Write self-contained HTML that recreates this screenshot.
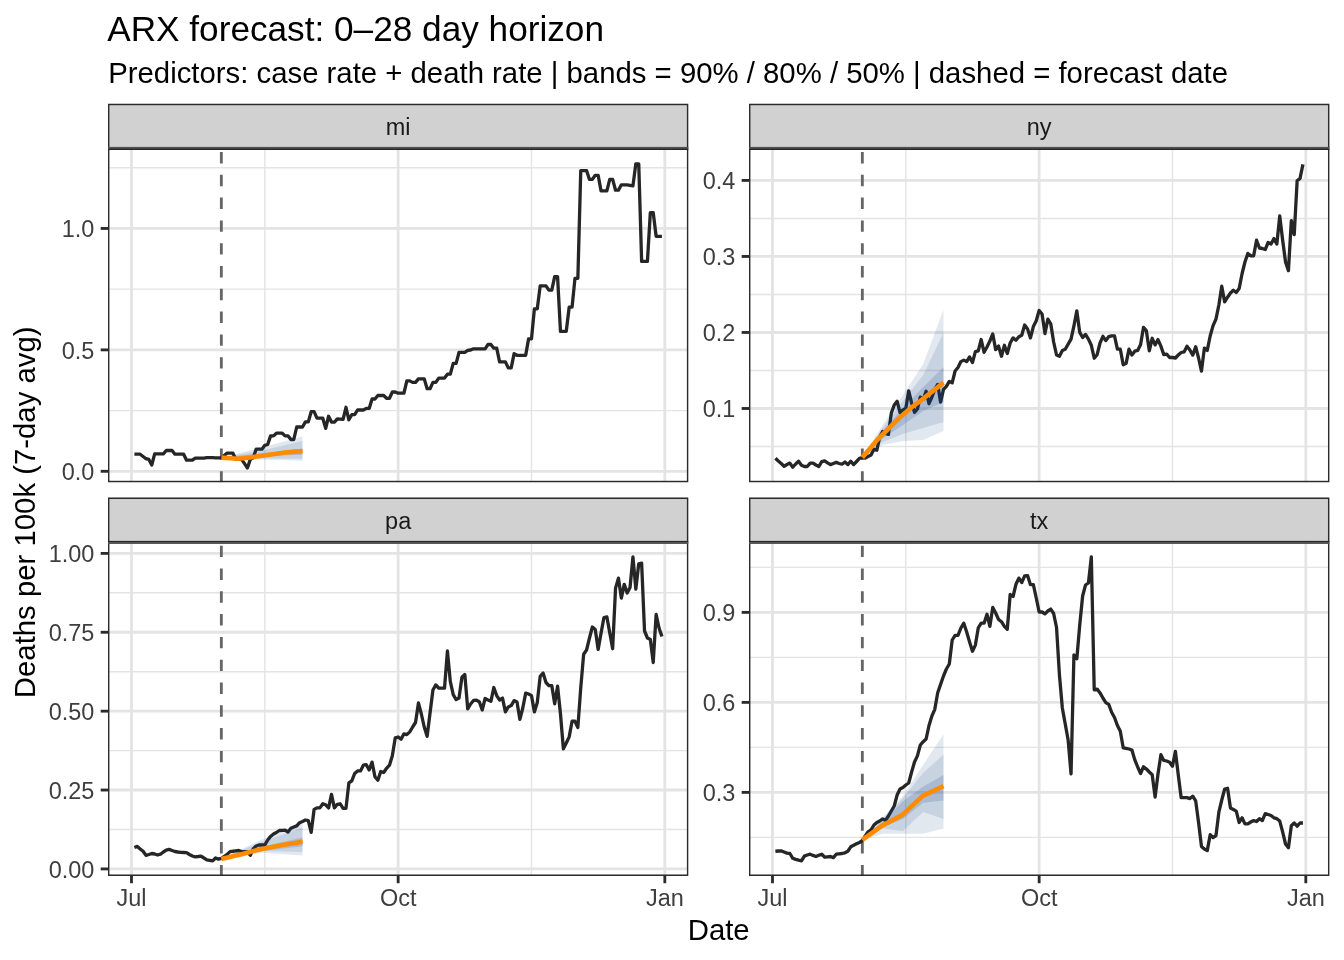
<!DOCTYPE html><html><head><meta charset="utf-8"><style>html,body{margin:0;padding:0;background:#fff;}svg{display:block;will-change:transform;}</style></head><body>
<svg width="1344" height="960" viewBox="0 0 1344 960" font-family='"Liberation Sans", sans-serif'>
<rect x="0" y="0" width="1344" height="960" fill="#ffffff"/>
<text x="107.2" y="40.7" font-size="35.2" fill="#000">ARX forecast: 0–28 day horizon</text>
<text x="108.2" y="82.5" font-size="29.33" fill="#000">Predictors: case rate + death rate | bands = 90% / 80% / 50% | dashed = forecast date</text>
<text x="718.7" y="939.6" font-size="29.33" fill="#000" text-anchor="middle">Date</text>
<text transform="translate(35.4,512.3) rotate(-90)" font-size="29.33" fill="#000" text-anchor="middle">Deaths per 100k (7-day avg)</text>
<clipPath id="clip_mi"><rect x="108.0" y="148.5" width="580.30" height="333.70"/></clipPath>
<g clip-path="url(#clip_mi)">
<rect x="108.0" y="148.5" width="580.30" height="333.70" fill="#fff"/>
<line x1="108.0" x2="688.3" y1="410.59" y2="410.59" stroke="#E4E4E4" stroke-width="1.42"/>
<line x1="108.0" x2="688.3" y1="289.16" y2="289.16" stroke="#E4E4E4" stroke-width="1.42"/>
<line x1="108.0" x2="688.3" y1="167.74" y2="167.74" stroke="#E4E4E4" stroke-width="1.42"/>
<line x1="264.81" x2="264.81" y1="148.5" y2="482.2" stroke="#E4E4E4" stroke-width="1.42"/>
<line x1="531.49" x2="531.49" y1="148.5" y2="482.2" stroke="#E4E4E4" stroke-width="1.42"/>
<line x1="108.0" x2="688.3" y1="471.30" y2="471.30" stroke="#E4E4E4" stroke-width="2.84"/>
<line x1="108.0" x2="688.3" y1="349.88" y2="349.88" stroke="#E4E4E4" stroke-width="2.84"/>
<line x1="108.0" x2="688.3" y1="228.45" y2="228.45" stroke="#E4E4E4" stroke-width="2.84"/>
<line x1="131.48" x2="131.48" y1="148.5" y2="482.2" stroke="#E4E4E4" stroke-width="2.84"/>
<line x1="398.15" x2="398.15" y1="148.5" y2="482.2" stroke="#E4E4E4" stroke-width="2.84"/>
<line x1="664.82" x2="664.82" y1="148.5" y2="482.2" stroke="#E4E4E4" stroke-width="2.84"/>
<line x1="221.34" x2="221.34" y1="482.60" y2="148.5" stroke="#666666" stroke-width="2.84" stroke-dasharray="11.4 11.4"/>
<polyline points="134.38,454.20 137.28,454.20 140.18,454.20 143.07,456.45 145.97,458.70 148.87,459.40 151.77,465.00 154.67,453.90 157.57,453.90 160.47,453.90 163.36,453.90 166.26,450.50 169.16,450.50 172.06,450.50 174.96,454.20 177.86,454.20 180.76,454.20 183.65,454.20 186.55,460.20 189.45,460.20 192.35,460.20 195.25,458.10 198.15,458.10 201.05,458.10 203.94,458.10 206.84,457.60 209.74,457.66 212.64,457.72 215.54,457.78 218.44,457.84 221.34,457.90 224.24,455.50 227.13,453.10 230.03,453.10 232.93,453.10 235.83,459.40 238.73,459.40 241.63,459.40 244.53,463.70 247.42,468.00 250.32,459.40 253.22,457.80 256.12,449.20 259.02,449.20 261.92,449.20 264.82,445.30 267.71,444.50 270.61,435.90 273.51,435.90 276.41,433.20 279.31,433.20 282.21,433.20 285.11,435.90 288.00,435.90 290.90,439.50 293.80,439.50 296.70,427.00 299.60,427.00 302.50,427.00 305.40,421.90 308.29,421.90 311.19,411.70 314.09,411.70 316.99,418.20 319.89,418.20 322.79,418.20 325.69,428.40 328.58,416.25 331.48,422.10 334.38,422.10 337.28,419.00 340.18,419.20 343.08,419.40 345.98,407.30 348.88,419.80 351.77,414.70 354.67,414.70 357.57,410.00 360.47,410.00 363.37,410.00 366.27,408.40 369.17,408.40 372.06,399.00 374.96,399.00 377.86,395.50 380.76,395.50 383.66,395.50 386.56,398.30 389.46,398.30 392.35,392.00 395.25,392.00 398.15,393.20 401.05,393.20 403.95,393.00 406.85,380.90 409.75,380.90 412.64,382.40 415.54,382.40 418.44,378.90 421.34,378.90 424.24,378.90 427.14,388.70 430.04,388.70 432.93,382.40 435.83,382.40 438.73,378.10 441.63,378.10 444.53,378.10 447.43,374.20 450.33,374.20 453.22,363.30 456.12,363.30 459.02,352.30 461.92,352.30 464.82,352.30 467.72,350.40 470.62,350.00 473.51,348.80 476.41,348.80 479.31,348.80 482.21,348.80 485.11,348.80 488.01,344.50 490.91,344.50 493.80,348.20 496.70,348.20 499.60,361.90 502.50,361.90 505.40,361.90 508.30,367.90 511.20,367.90 514.10,353.70 516.99,355.30 519.89,355.30 522.79,355.30 525.69,355.30 528.59,338.90 531.49,338.90 534.39,308.80 537.28,308.80 540.18,285.90 543.08,285.90 545.98,285.90 548.88,290.20 551.78,290.20 554.68,276.60 557.57,276.60 560.47,331.30 563.37,331.30 566.27,331.30 569.17,307.20 572.07,307.20 574.97,278.30 577.86,278.30 580.76,170.60 583.66,170.60 586.56,170.60 589.46,179.40 592.36,179.40 595.26,175.30 598.15,175.30 601.05,190.90 603.95,190.90 606.85,190.90 609.75,179.40 612.65,179.40 615.55,190.20 618.44,190.20 621.34,184.80 624.24,184.80 627.14,184.80 630.04,185.35 632.94,185.90 635.84,163.80 638.74,163.80 641.63,261.40 644.53,261.40 647.43,261.40 650.33,212.60 653.23,212.60 656.13,236.30 659.03,236.30 661.92,236.30" fill="none" stroke="#262626" stroke-width="3.3" stroke-linejoin="round" stroke-linecap="butt"/>
<polygon points="221.34,457.60 261.92,447.50 302.50,436.40 302.50,460.80 261.92,459.50 221.34,457.60" fill="#123F80" fill-opacity="0.12"/>
<polygon points="221.34,457.60 261.92,450.50 302.50,441.00 302.50,458.80 261.92,458.50 221.34,457.60" fill="#123F80" fill-opacity="0.12"/>
<polygon points="221.34,457.60 261.92,453.50 302.50,448.40 302.50,454.80 261.92,456.00 221.34,457.60" fill="#123F80" fill-opacity="0.17"/>
<polyline points="221.40,457.60 230.00,458.30 238.00,458.80 250.00,457.50 260.00,456.00 275.00,454.00 285.00,452.50 295.00,451.60 302.60,451.30" fill="none" stroke="#FF8C00" stroke-width="4.6" stroke-linejoin="round" stroke-linecap="butt"/>
<rect x="108.0" y="148.5" width="580.30" height="333.70" fill="none" stroke="#2B2B2B" stroke-width="2.84"/>
</g>
<clipPath id="sclip_mi"><rect x="108.0" y="103.8" width="580.30" height="44.70"/></clipPath>
<g clip-path="url(#sclip_mi)"><rect x="108.0" y="103.8" width="580.30" height="44.70" fill="#D1D1D1" stroke="#2B2B2B" stroke-width="2.84"/></g>
<rect x="108.0" y="146.9" width="580.30" height="1.7" fill="#505050"/>
<rect x="108.0" y="148.6" width="580.30" height="1.4" fill="#262626"/>
<text x="398.15" y="134.70" font-size="23.47" fill="#1A1A1A" text-anchor="middle">mi</text>
<line x1="100.67" x2="108.0" y1="471.30" y2="471.30" stroke="#2B2B2B" stroke-width="2.84"/>
<text x="94.40" y="480.20" font-size="23.47" fill="#3E3E3E" text-anchor="end">0.0</text>
<line x1="100.67" x2="108.0" y1="349.88" y2="349.88" stroke="#2B2B2B" stroke-width="2.84"/>
<text x="94.40" y="358.77" font-size="23.47" fill="#3E3E3E" text-anchor="end">0.5</text>
<line x1="100.67" x2="108.0" y1="228.45" y2="228.45" stroke="#2B2B2B" stroke-width="2.84"/>
<text x="94.40" y="237.35" font-size="23.47" fill="#3E3E3E" text-anchor="end">1.0</text>
<clipPath id="clip_ny"><rect x="749.0" y="148.5" width="580.40" height="333.70"/></clipPath>
<g clip-path="url(#clip_ny)">
<rect x="749.0" y="148.5" width="580.40" height="333.70" fill="#fff"/>
<line x1="749.0" x2="1329.4" y1="446.50" y2="446.50" stroke="#E4E4E4" stroke-width="1.42"/>
<line x1="749.0" x2="1329.4" y1="370.48" y2="370.48" stroke="#E4E4E4" stroke-width="1.42"/>
<line x1="749.0" x2="1329.4" y1="294.46" y2="294.46" stroke="#E4E4E4" stroke-width="1.42"/>
<line x1="749.0" x2="1329.4" y1="218.44" y2="218.44" stroke="#E4E4E4" stroke-width="1.42"/>
<line x1="905.81" x2="905.81" y1="148.5" y2="482.2" stroke="#E4E4E4" stroke-width="1.42"/>
<line x1="1172.49" x2="1172.49" y1="148.5" y2="482.2" stroke="#E4E4E4" stroke-width="1.42"/>
<line x1="749.0" x2="1329.4" y1="408.49" y2="408.49" stroke="#E4E4E4" stroke-width="2.84"/>
<line x1="749.0" x2="1329.4" y1="332.47" y2="332.47" stroke="#E4E4E4" stroke-width="2.84"/>
<line x1="749.0" x2="1329.4" y1="256.45" y2="256.45" stroke="#E4E4E4" stroke-width="2.84"/>
<line x1="749.0" x2="1329.4" y1="180.43" y2="180.43" stroke="#E4E4E4" stroke-width="2.84"/>
<line x1="772.48" x2="772.48" y1="148.5" y2="482.2" stroke="#E4E4E4" stroke-width="2.84"/>
<line x1="1039.15" x2="1039.15" y1="148.5" y2="482.2" stroke="#E4E4E4" stroke-width="2.84"/>
<line x1="1305.82" x2="1305.82" y1="148.5" y2="482.2" stroke="#E4E4E4" stroke-width="2.84"/>
<line x1="862.34" x2="862.34" y1="482.60" y2="148.5" stroke="#666666" stroke-width="2.84" stroke-dasharray="11.4 11.4"/>
<polyline points="775.38,458.30 778.28,461.00 781.18,463.50 784.07,466.30 786.97,464.50 789.87,463.10 792.77,467.20 795.67,464.00 798.57,461.25 801.47,465.30 804.36,466.50 807.26,466.50 810.16,463.10 813.06,463.10 815.96,465.00 818.86,466.50 821.76,461.60 824.65,460.90 827.55,462.80 830.45,464.60 833.35,463.50 836.25,462.40 839.15,463.50 842.05,464.20 844.95,462.00 847.84,464.60 850.74,461.25 853.64,464.60 856.54,461.50 859.44,458.30 862.34,457.60 865.24,458.10 868.13,456.50 871.03,455.10 873.93,449.20 876.83,450.20 879.73,437.00 882.63,431.40 885.53,433.50 888.42,434.40 891.32,413.00 894.22,405.00 897.12,401.20 900.02,412.60 902.92,410.00 905.82,408.60 908.71,390.80 911.61,403.00 914.51,412.30 917.41,409.00 920.31,397.20 923.21,399.20 926.11,391.30 929.00,403.70 931.90,397.20 934.80,389.30 937.70,384.40 940.60,402.20 943.50,389.30 946.40,386.30 949.29,381.40 952.19,382.90 955.09,371.00 957.99,367.50 960.89,361.60 963.79,360.10 966.69,361.60 969.58,357.00 972.48,362.50 975.38,351.60 978.28,350.80 981.18,339.50 984.08,352.30 986.98,347.00 989.88,341.00 992.77,334.00 995.67,349.60 998.57,346.10 1001.47,356.25 1004.37,345.30 1007.27,353.50 1010.17,343.00 1013.06,337.90 1015.96,340.20 1018.86,336.70 1021.76,335.20 1024.66,325.00 1027.56,328.90 1030.46,337.90 1033.35,326.60 1036.25,320.70 1039.15,310.50 1042.05,314.00 1044.95,333.60 1047.85,319.10 1050.75,323.80 1053.64,342.00 1056.54,355.00 1059.44,356.25 1062.34,350.40 1065.24,349.20 1068.14,344.10 1071.04,339.10 1073.93,325.80 1076.83,310.90 1079.73,332.40 1082.63,337.50 1085.53,334.40 1088.43,339.10 1091.33,345.30 1094.22,358.20 1097.12,354.70 1100.02,343.00 1102.92,336.30 1105.82,340.60 1108.72,336.70 1111.62,335.90 1114.51,335.90 1117.41,349.20 1120.31,349.20 1123.21,364.80 1126.11,363.30 1129.01,349.20 1131.91,355.10 1134.81,351.20 1137.70,350.40 1140.60,344.50 1143.50,327.30 1146.40,330.90 1149.30,350.80 1152.20,338.30 1155.10,344.90 1157.99,339.60 1160.89,346.10 1163.79,354.70 1166.69,354.20 1169.59,357.50 1172.49,357.50 1175.39,358.00 1178.28,355.00 1181.18,352.50 1184.08,351.90 1186.98,346.20 1189.88,350.00 1192.78,355.10 1195.68,346.70 1198.57,358.00 1201.47,371.10 1204.37,348.10 1207.27,350.40 1210.17,336.00 1213.07,325.60 1215.97,319.10 1218.86,305.00 1221.76,286.25 1224.66,301.90 1227.56,297.20 1230.46,293.00 1233.36,290.20 1236.26,292.50 1239.15,288.60 1242.05,273.75 1244.95,262.00 1247.85,253.40 1250.75,255.80 1253.65,255.80 1256.55,240.20 1259.44,248.00 1262.34,248.50 1265.24,249.50 1268.14,242.50 1271.04,244.00 1273.94,238.60 1276.84,244.00 1279.74,215.90 1282.63,240.00 1285.53,262.00 1288.43,270.60 1291.33,220.60 1294.23,234.70 1297.13,180.80 1300.03,178.40 1302.92,164.40" fill="none" stroke="#262626" stroke-width="3.3" stroke-linejoin="round" stroke-linecap="butt"/>
<polygon points="862.34,457.60 882.63,425.00 902.92,395.00 923.21,364.00 943.50,309.70 943.50,431.00 923.21,440.00 902.92,441.00 882.63,445.00 862.34,457.60" fill="#123F80" fill-opacity="0.12"/>
<polygon points="862.34,457.60 882.63,428.00 902.92,401.00 923.21,375.00 943.50,332.70 943.50,422.00 923.21,428.00 902.92,434.00 882.63,442.00 862.34,457.60" fill="#123F80" fill-opacity="0.12"/>
<polygon points="862.34,457.60 882.63,431.00 902.92,408.00 923.21,387.00 943.50,367.30 943.50,402.00 923.21,411.00 902.92,425.00 882.63,438.50 862.34,457.60" fill="#123F80" fill-opacity="0.17"/>
<polyline points="862.30,457.40 877.80,439.30 897.60,419.50 912.00,407.00 918.00,402.70 943.50,382.60" fill="none" stroke="#FF8C00" stroke-width="4.6" stroke-linejoin="round" stroke-linecap="butt"/>
<rect x="749.0" y="148.5" width="580.40" height="333.70" fill="none" stroke="#2B2B2B" stroke-width="2.84"/>
</g>
<clipPath id="sclip_ny"><rect x="749.0" y="103.8" width="580.40" height="44.70"/></clipPath>
<g clip-path="url(#sclip_ny)"><rect x="749.0" y="103.8" width="580.40" height="44.70" fill="#D1D1D1" stroke="#2B2B2B" stroke-width="2.84"/></g>
<rect x="749.0" y="146.9" width="580.40" height="1.7" fill="#505050"/>
<rect x="749.0" y="148.6" width="580.40" height="1.4" fill="#262626"/>
<text x="1039.20" y="134.70" font-size="23.47" fill="#1A1A1A" text-anchor="middle">ny</text>
<line x1="741.67" x2="749.0" y1="408.49" y2="408.49" stroke="#2B2B2B" stroke-width="2.84"/>
<text x="735.40" y="417.39" font-size="23.47" fill="#3E3E3E" text-anchor="end">0.1</text>
<line x1="741.67" x2="749.0" y1="332.47" y2="332.47" stroke="#2B2B2B" stroke-width="2.84"/>
<text x="735.40" y="341.37" font-size="23.47" fill="#3E3E3E" text-anchor="end">0.2</text>
<line x1="741.67" x2="749.0" y1="256.45" y2="256.45" stroke="#2B2B2B" stroke-width="2.84"/>
<text x="735.40" y="265.35" font-size="23.47" fill="#3E3E3E" text-anchor="end">0.3</text>
<line x1="741.67" x2="749.0" y1="180.43" y2="180.43" stroke="#2B2B2B" stroke-width="2.84"/>
<text x="735.40" y="189.33" font-size="23.47" fill="#3E3E3E" text-anchor="end">0.4</text>
<clipPath id="clip_pa"><rect x="108.0" y="542.3" width="580.30" height="333.60"/></clipPath>
<g clip-path="url(#clip_pa)">
<rect x="108.0" y="542.3" width="580.30" height="333.60" fill="#fff"/>
<line x1="108.0" x2="688.3" y1="829.49" y2="829.49" stroke="#E4E4E4" stroke-width="1.42"/>
<line x1="108.0" x2="688.3" y1="750.60" y2="750.60" stroke="#E4E4E4" stroke-width="1.42"/>
<line x1="108.0" x2="688.3" y1="671.72" y2="671.72" stroke="#E4E4E4" stroke-width="1.42"/>
<line x1="108.0" x2="688.3" y1="592.83" y2="592.83" stroke="#E4E4E4" stroke-width="1.42"/>
<line x1="264.81" x2="264.81" y1="542.3" y2="875.9" stroke="#E4E4E4" stroke-width="1.42"/>
<line x1="531.49" x2="531.49" y1="542.3" y2="875.9" stroke="#E4E4E4" stroke-width="1.42"/>
<line x1="108.0" x2="688.3" y1="868.93" y2="868.93" stroke="#E4E4E4" stroke-width="2.84"/>
<line x1="108.0" x2="688.3" y1="790.04" y2="790.04" stroke="#E4E4E4" stroke-width="2.84"/>
<line x1="108.0" x2="688.3" y1="711.16" y2="711.16" stroke="#E4E4E4" stroke-width="2.84"/>
<line x1="108.0" x2="688.3" y1="632.27" y2="632.27" stroke="#E4E4E4" stroke-width="2.84"/>
<line x1="108.0" x2="688.3" y1="553.39" y2="553.39" stroke="#E4E4E4" stroke-width="2.84"/>
<line x1="131.48" x2="131.48" y1="542.3" y2="875.9" stroke="#E4E4E4" stroke-width="2.84"/>
<line x1="398.15" x2="398.15" y1="542.3" y2="875.9" stroke="#E4E4E4" stroke-width="2.84"/>
<line x1="664.82" x2="664.82" y1="542.3" y2="875.9" stroke="#E4E4E4" stroke-width="2.84"/>
<line x1="221.34" x2="221.34" y1="876.30" y2="542.3" stroke="#666666" stroke-width="2.84" stroke-dasharray="11.4 11.4"/>
<polyline points="134.38,847.50 137.28,846.40 140.18,849.00 143.07,851.25 145.97,855.30 148.87,854.50 151.77,853.50 154.67,854.00 157.57,855.00 160.47,854.20 163.36,852.00 166.26,850.10 169.16,849.40 172.06,850.50 174.96,851.50 177.86,852.00 180.76,852.30 183.65,852.50 186.55,852.70 189.45,854.50 192.35,856.00 195.25,856.80 198.15,856.50 201.05,856.10 203.94,858.00 206.84,859.80 209.74,860.30 212.64,860.90 215.54,858.00 218.44,859.10 221.34,858.30 224.24,856.50 227.13,854.40 230.03,851.60 232.93,851.25 235.83,850.80 238.73,850.50 241.63,851.60 244.53,851.60 247.42,852.00 250.32,855.20 253.22,848.90 256.12,846.00 259.02,845.00 261.92,845.00 264.82,845.00 267.71,840.00 270.61,836.40 273.51,834.00 276.41,832.50 279.31,830.50 282.21,830.30 285.11,830.20 288.00,832.10 290.90,828.20 293.80,827.00 296.70,825.90 299.60,822.70 302.50,821.50 305.40,820.00 308.29,820.60 311.19,832.40 314.09,809.50 316.99,807.90 319.89,807.90 322.79,803.75 325.69,804.80 328.58,807.90 331.48,794.40 334.38,807.90 337.28,804.30 340.18,803.75 343.08,808.40 345.98,808.40 348.88,782.90 351.77,780.80 354.67,773.50 357.57,770.90 360.47,770.90 363.37,765.20 366.27,764.70 369.17,769.90 372.06,762.10 374.96,776.70 377.86,780.30 380.76,771.50 383.66,772.50 386.56,768.30 389.46,765.20 392.35,755.80 395.25,737.80 398.15,737.00 401.05,739.30 403.95,733.80 406.85,734.60 409.75,731.90 412.64,727.00 415.54,722.50 418.44,702.90 421.34,714.00 424.24,727.00 427.14,736.30 430.04,713.00 432.93,690.00 435.83,684.90 438.73,688.10 441.63,688.10 444.53,688.10 447.43,650.90 450.33,681.60 453.22,694.70 456.12,699.60 459.02,698.00 461.92,677.20 464.82,674.50 467.72,708.90 470.62,704.00 473.51,700.50 476.41,700.20 479.31,701.80 482.21,710.00 485.11,698.50 488.01,700.00 490.91,701.30 493.80,687.50 496.70,695.60 499.60,700.00 502.50,698.10 505.40,711.90 508.30,706.90 511.20,705.60 514.10,700.60 516.99,701.90 519.89,719.40 522.79,708.00 525.69,693.10 528.59,694.00 531.49,695.60 534.39,711.90 537.28,702.50 540.18,676.25 543.08,673.10 545.98,682.50 548.88,685.60 551.78,685.60 554.68,703.75 557.57,686.25 560.47,713.75 563.37,748.75 566.27,743.00 569.17,736.90 572.07,721.25 574.97,721.25 577.86,727.50 580.76,687.60 583.66,654.20 586.56,650.00 589.46,638.00 592.36,627.00 595.26,629.50 598.15,649.40 601.05,633.10 603.95,617.50 606.85,616.90 609.75,632.80 612.65,648.75 615.55,588.10 618.44,578.10 621.34,598.10 624.24,584.40 627.14,593.00 630.04,587.50 632.94,556.90 635.84,589.00 638.74,563.75 641.63,563.10 644.53,631.00 647.43,638.00 650.33,639.40 653.23,662.50 656.13,614.40 659.03,628.00 661.92,636.50" fill="none" stroke="#262626" stroke-width="3.3" stroke-linejoin="round" stroke-linecap="butt"/>
<polygon points="221.34,858.80 261.92,839.50 302.50,823.00 302.50,855.50 261.92,852.70 221.34,858.80" fill="#123F80" fill-opacity="0.12"/>
<polygon points="221.34,858.80 261.92,841.80 302.50,827.50 302.50,852.00 261.92,851.00 221.34,858.80" fill="#123F80" fill-opacity="0.12"/>
<polygon points="221.34,858.80 261.92,846.70 302.50,837.40 302.50,846.30 261.92,851.10 221.34,858.80" fill="#123F80" fill-opacity="0.17"/>
<polyline points="221.30,859.10 241.60,854.20 261.90,848.90 282.20,845.00 302.60,841.80" fill="none" stroke="#FF8C00" stroke-width="4.6" stroke-linejoin="round" stroke-linecap="butt"/>
<rect x="108.0" y="542.3" width="580.30" height="333.60" fill="none" stroke="#2B2B2B" stroke-width="2.84"/>
</g>
<clipPath id="sclip_pa"><rect x="108.0" y="497.6" width="580.30" height="44.70"/></clipPath>
<g clip-path="url(#sclip_pa)"><rect x="108.0" y="497.6" width="580.30" height="44.70" fill="#D1D1D1" stroke="#2B2B2B" stroke-width="2.84"/></g>
<rect x="108.0" y="541.0" width="580.30" height="1.0" fill="#262626"/>
<rect x="108.0" y="542.0" width="580.30" height="1.8" fill="#555555"/>
<text x="398.15" y="528.50" font-size="23.47" fill="#1A1A1A" text-anchor="middle">pa</text>
<line x1="100.67" x2="108.0" y1="868.93" y2="868.93" stroke="#2B2B2B" stroke-width="2.84"/>
<text x="94.40" y="877.83" font-size="23.47" fill="#3E3E3E" text-anchor="end">0.00</text>
<line x1="100.67" x2="108.0" y1="790.04" y2="790.04" stroke="#2B2B2B" stroke-width="2.84"/>
<text x="94.40" y="798.94" font-size="23.47" fill="#3E3E3E" text-anchor="end">0.25</text>
<line x1="100.67" x2="108.0" y1="711.16" y2="711.16" stroke="#2B2B2B" stroke-width="2.84"/>
<text x="94.40" y="720.06" font-size="23.47" fill="#3E3E3E" text-anchor="end">0.50</text>
<line x1="100.67" x2="108.0" y1="632.27" y2="632.27" stroke="#2B2B2B" stroke-width="2.84"/>
<text x="94.40" y="641.17" font-size="23.47" fill="#3E3E3E" text-anchor="end">0.75</text>
<line x1="100.67" x2="108.0" y1="553.39" y2="553.39" stroke="#2B2B2B" stroke-width="2.84"/>
<text x="94.40" y="562.29" font-size="23.47" fill="#3E3E3E" text-anchor="end">1.00</text>
<line x1="131.48" x2="131.48" y1="875.9" y2="883.23" stroke="#2B2B2B" stroke-width="2.84"/>
<text x="131.48" y="906" font-size="23.47" fill="#3E3E3E" text-anchor="middle">Jul</text>
<line x1="398.15" x2="398.15" y1="875.9" y2="883.23" stroke="#2B2B2B" stroke-width="2.84"/>
<text x="398.15" y="906" font-size="23.47" fill="#3E3E3E" text-anchor="middle">Oct</text>
<line x1="664.82" x2="664.82" y1="875.9" y2="883.23" stroke="#2B2B2B" stroke-width="2.84"/>
<text x="664.82" y="906" font-size="23.47" fill="#3E3E3E" text-anchor="middle">Jan</text>
<clipPath id="clip_tx"><rect x="749.0" y="542.3" width="580.40" height="333.60"/></clipPath>
<g clip-path="url(#clip_tx)">
<rect x="749.0" y="542.3" width="580.40" height="333.60" fill="#fff"/>
<line x1="749.0" x2="1329.4" y1="837.38" y2="837.38" stroke="#E4E4E4" stroke-width="1.42"/>
<line x1="749.0" x2="1329.4" y1="747.38" y2="747.38" stroke="#E4E4E4" stroke-width="1.42"/>
<line x1="749.0" x2="1329.4" y1="657.38" y2="657.38" stroke="#E4E4E4" stroke-width="1.42"/>
<line x1="749.0" x2="1329.4" y1="567.38" y2="567.38" stroke="#E4E4E4" stroke-width="1.42"/>
<line x1="905.81" x2="905.81" y1="542.3" y2="875.9" stroke="#E4E4E4" stroke-width="1.42"/>
<line x1="1172.49" x2="1172.49" y1="542.3" y2="875.9" stroke="#E4E4E4" stroke-width="1.42"/>
<line x1="749.0" x2="1329.4" y1="792.38" y2="792.38" stroke="#E4E4E4" stroke-width="2.84"/>
<line x1="749.0" x2="1329.4" y1="702.38" y2="702.38" stroke="#E4E4E4" stroke-width="2.84"/>
<line x1="749.0" x2="1329.4" y1="612.38" y2="612.38" stroke="#E4E4E4" stroke-width="2.84"/>
<line x1="772.48" x2="772.48" y1="542.3" y2="875.9" stroke="#E4E4E4" stroke-width="2.84"/>
<line x1="1039.15" x2="1039.15" y1="542.3" y2="875.9" stroke="#E4E4E4" stroke-width="2.84"/>
<line x1="1305.82" x2="1305.82" y1="542.3" y2="875.9" stroke="#E4E4E4" stroke-width="2.84"/>
<line x1="862.34" x2="862.34" y1="876.30" y2="542.3" stroke="#666666" stroke-width="2.84" stroke-dasharray="11.4 11.4"/>
<polyline points="775.38,851.25 778.28,851.00 781.18,850.90 784.07,852.00 786.97,853.10 789.87,853.50 792.77,858.30 795.67,859.40 798.57,860.20 801.47,860.90 804.36,856.10 807.26,855.00 810.16,854.20 813.06,855.40 815.96,856.50 818.86,855.30 821.76,854.20 824.65,857.20 827.55,856.80 830.45,856.50 833.35,857.60 836.25,854.20 839.15,853.80 842.05,853.50 844.95,852.80 847.84,851.25 850.74,846.80 853.64,845.30 856.54,843.80 859.44,842.50 862.34,840.60 865.24,836.00 868.13,831.80 871.03,829.80 873.93,825.00 876.83,822.50 879.73,821.00 882.63,818.90 885.53,820.30 888.42,816.00 891.32,811.00 894.22,806.00 897.12,795.00 900.02,789.00 902.92,787.50 905.82,785.00 908.71,783.00 911.61,772.00 914.51,762.00 917.41,755.90 920.31,745.00 923.21,741.70 926.11,739.00 929.00,725.50 931.90,716.00 934.80,709.30 937.70,692.70 940.60,684.40 943.50,676.00 946.40,669.00 949.29,664.00 952.19,640.00 955.09,635.30 957.99,635.30 960.89,628.00 963.79,623.20 966.69,632.00 969.58,642.00 972.48,651.20 975.38,645.10 978.28,627.80 981.18,623.20 984.08,623.20 986.98,614.20 989.88,626.30 992.77,607.40 995.67,613.00 998.57,619.50 1001.47,621.70 1004.37,626.30 1007.27,629.30 1010.17,594.50 1013.06,596.50 1015.96,584.30 1018.86,578.10 1021.76,582.50 1024.66,575.90 1027.56,575.60 1030.46,584.70 1033.35,584.70 1036.25,598.00 1039.15,612.00 1042.05,612.00 1044.95,613.90 1047.85,611.00 1050.75,609.10 1053.64,613.50 1056.54,627.50 1059.44,675.00 1062.34,708.00 1065.24,724.00 1068.14,740.00 1071.04,773.80 1073.93,655.00 1076.83,658.75 1079.73,625.00 1082.63,596.00 1085.53,585.00 1088.43,583.00 1091.33,557.00 1094.22,689.80 1097.12,689.10 1100.02,692.90 1102.92,698.00 1105.82,702.60 1108.72,704.30 1111.62,712.30 1114.51,717.50 1117.41,725.50 1120.31,731.20 1123.21,747.80 1126.11,748.40 1129.01,749.00 1131.91,750.00 1134.81,759.90 1137.70,767.00 1140.60,773.60 1143.50,766.70 1146.40,769.00 1149.30,772.00 1152.20,774.80 1155.10,797.10 1157.99,774.00 1160.89,754.70 1163.79,760.40 1166.69,761.00 1169.59,762.20 1172.49,766.20 1175.39,751.30 1178.28,775.00 1181.18,797.70 1184.08,797.70 1186.98,797.70 1189.88,798.60 1192.78,796.20 1195.68,800.90 1198.57,822.50 1201.47,846.40 1204.37,849.00 1207.27,850.60 1210.17,834.70 1213.07,837.50 1215.97,835.60 1218.86,812.20 1221.76,800.00 1224.66,789.00 1227.56,788.30 1230.46,808.00 1233.36,809.50 1236.26,811.20 1239.15,822.50 1242.05,817.80 1244.95,823.90 1247.85,823.90 1250.75,822.00 1253.65,820.60 1256.55,821.50 1259.44,818.70 1262.34,820.60 1265.24,813.60 1268.14,814.50 1271.04,815.50 1273.94,817.80 1276.84,818.70 1279.74,821.10 1282.63,831.90 1285.53,844.00 1288.43,847.80 1291.33,825.80 1294.23,823.00 1297.13,826.20 1300.03,823.00 1302.92,823.00" fill="none" stroke="#262626" stroke-width="3.3" stroke-linejoin="round" stroke-linecap="butt"/>
<polygon points="862.34,840.60 882.63,817.60 902.92,795.90 923.21,764.70 943.50,734.20 943.50,828.40 923.21,833.80 902.92,833.80 882.63,833.80 862.34,840.60" fill="#123F80" fill-opacity="0.12"/>
<polygon points="862.34,840.60 882.63,819.00 902.92,797.90 923.21,772.80 943.50,754.60 943.50,818.90 923.21,812.10 902.92,831.10 882.63,828.40 862.34,840.60" fill="#123F80" fill-opacity="0.12"/>
<polygon points="862.34,840.60 882.63,821.60 902.92,801.30 923.21,786.40 943.50,774.90 943.50,800.60 923.21,802.70 902.92,818.90 882.63,827.00 862.34,840.60" fill="#123F80" fill-opacity="0.17"/>
<polyline points="862.30,839.90 882.10,825.70 902.40,814.85 922.75,795.90 943.50,786.20" fill="none" stroke="#FF8C00" stroke-width="4.6" stroke-linejoin="round" stroke-linecap="butt"/>
<rect x="749.0" y="542.3" width="580.40" height="333.60" fill="none" stroke="#2B2B2B" stroke-width="2.84"/>
</g>
<clipPath id="sclip_tx"><rect x="749.0" y="497.6" width="580.40" height="44.70"/></clipPath>
<g clip-path="url(#sclip_tx)"><rect x="749.0" y="497.6" width="580.40" height="44.70" fill="#D1D1D1" stroke="#2B2B2B" stroke-width="2.84"/></g>
<rect x="749.0" y="541.0" width="580.40" height="1.0" fill="#262626"/>
<rect x="749.0" y="542.0" width="580.40" height="1.8" fill="#555555"/>
<text x="1039.20" y="528.50" font-size="23.47" fill="#1A1A1A" text-anchor="middle">tx</text>
<line x1="741.67" x2="749.0" y1="792.38" y2="792.38" stroke="#2B2B2B" stroke-width="2.84"/>
<text x="735.40" y="801.28" font-size="23.47" fill="#3E3E3E" text-anchor="end">0.3</text>
<line x1="741.67" x2="749.0" y1="702.38" y2="702.38" stroke="#2B2B2B" stroke-width="2.84"/>
<text x="735.40" y="711.28" font-size="23.47" fill="#3E3E3E" text-anchor="end">0.6</text>
<line x1="741.67" x2="749.0" y1="612.38" y2="612.38" stroke="#2B2B2B" stroke-width="2.84"/>
<text x="735.40" y="621.28" font-size="23.47" fill="#3E3E3E" text-anchor="end">0.9</text>
<line x1="772.48" x2="772.48" y1="875.9" y2="883.23" stroke="#2B2B2B" stroke-width="2.84"/>
<text x="772.48" y="906" font-size="23.47" fill="#3E3E3E" text-anchor="middle">Jul</text>
<line x1="1039.15" x2="1039.15" y1="875.9" y2="883.23" stroke="#2B2B2B" stroke-width="2.84"/>
<text x="1039.15" y="906" font-size="23.47" fill="#3E3E3E" text-anchor="middle">Oct</text>
<line x1="1305.82" x2="1305.82" y1="875.9" y2="883.23" stroke="#2B2B2B" stroke-width="2.84"/>
<text x="1305.82" y="906" font-size="23.47" fill="#3E3E3E" text-anchor="middle">Jan</text>
</svg></body></html>
